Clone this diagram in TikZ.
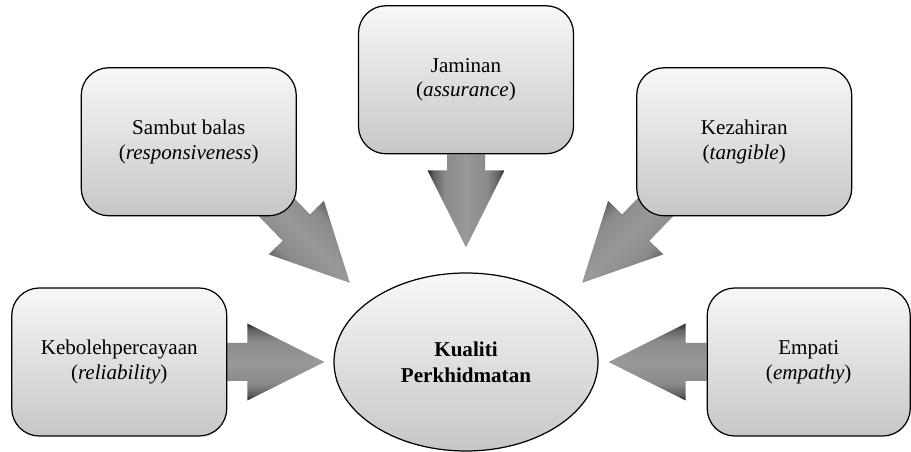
\documentclass[tikz,border=0pt]{standalone}
\usepackage{fontspec}
\setmainfont{Liberation Serif}
\usetikzlibrary{positioning,shapes.geometric,calc,backgrounds}
\pgfdeclareverticalshading{bevel}{100bp}{color(0bp)=(black!85); color(25bp)=(black!85);
color(29bp)=(black!62); color(36bp)=(black!46); color(50bp)=(black!40);
color(64bp)=(black!46); color(71bp)=(black!62); color(75bp)=(black!85);
color(100bp)=(black!85)}

\begin{document}
\begin{tikzpicture}[
facet/.style={draw,line width=0.7pt,rounded corners=0.55cm,align=center,
font=\fontsize{12}{14}\rmfamily\selectfont,top color=black!3,bottom color=black!22,
minimum width=4.3cm,minimum height=2.96cm},
hub/.style={ellipse,draw,line width=0.7pt,align=center,inner sep=0pt,
font=\fontsize{12}{14.6}\rmfamily\bfseries\selectfont,top color=black!3,
bottom color=black!22,minimum width=5.28cm,minimum height=3.56cm},
arr/.style={shade,shading=bevel,
to path={let \p1=($(\tikztotarget)-(\tikztostart)$),
\n1={atan2(\y1,\x1)},\n2={veclen(\x1,\y1)} in
[shift={(\tikztostart)},rotate=\n1]
(0cm,-0.38cm) -- ({\n2-1.54cm},-0.38cm) -- ({\n2-1.54cm},-0.77cm)
-- ({\n2+0pt},0cm) -- ({\n2-1.54cm},0.77cm) -- ({\n2-1.54cm},0.38cm)
-- (0cm,0.38cm) -- cycle}}
]
\useasboundingbox (-9.32,-1.8) rectangle (8.9,7.24);
\node[hub] (kp) {Kualiti\\Perkhidmatan};
\node[facet,left=2.12cm of kp] (keb) {Kebolehpercayaan\\(\textit{reliability})};
\node[facet,right=2.16cm of kp,minimum width=4.06cm] (emp) {Empati\\(\textit{empathy})};
\node[facet,above=2.36cm of kp] (jam) {Jaminan\\(\textit{assurance})};
\node[facet,above=1.42cm of keb,xshift=1.39cm] (sam) {Sambut balas\\(\textit{responsiveness})};
\node[facet,above=1.42cm of emp,xshift=-1.29cm] (kez) {Kezahiran\\(\textit{tangible})};
% tips stop short of the ellipse
\coordinate (tK) at ($(kp.west)+(-0.18,0)$);
\coordinate (tE) at ($(kp.east)+(0.2,0)$);
\coordinate (tJ) at ($(kp.north)+(0,0.5)$);
\coordinate (tS) at ($(kp)+(-2.32,1.58)$);
\coordinate (tZ) at ($(kp)+(2.32,1.58)$);
\coordinate (sS) at ($(sam.south east)+(-0.54,0.32)$);
\coordinate (sZ) at ($(kez.south west)+(0.52,0.32)$);
\begin{scope}[on background layer]
\foreach \a/\b/\s in {keb.east/tK/0,emp.west/tE/0,jam.south/tJ/90,sS/tS/-45,sZ/tZ/45}
\path[arr,shading angle=\s] (\a) to (\b);
\end{scope}
\end{tikzpicture}
\end{document}
